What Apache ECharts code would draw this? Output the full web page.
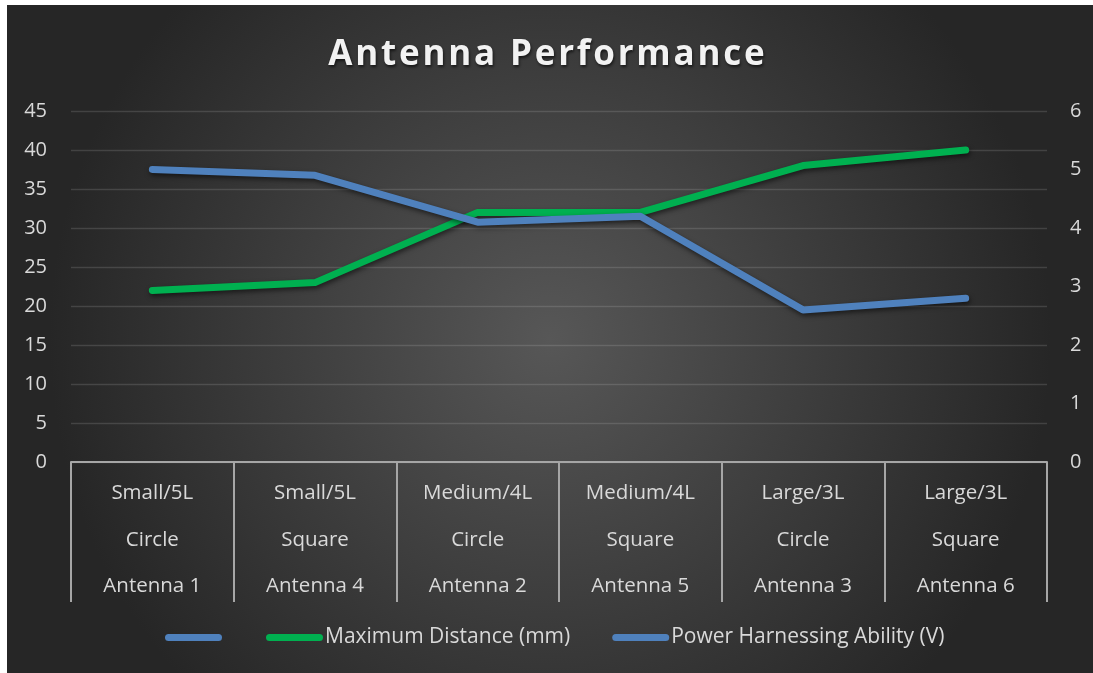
<!DOCTYPE html>
<html>
<head>
<meta charset="utf-8">
<style>
  html, body { margin: 0; padding: 0; background: #ffffff; }
  #chart { width: 1093px; height: 673px; }
</style>
<script src="https://cdn.jsdelivr.net/npm/echarts@6/dist/echarts.min.js"></script>
</head>
<body>
<div id="chart"></div>
<script>
// Category rows (three-level axis: size / shape / antenna)
const sizes = ['Small/5L', 'Small/5L', 'Medium/4L', 'Medium/4L', 'Large/3L', 'Large/3L'];
const shapes = ['Circle', 'Square', 'Circle', 'Square', 'Circle', 'Square'];
const antennas = ['Antenna 1', 'Antenna 4', 'Antenna 2', 'Antenna 5', 'Antenna 3', 'Antenna 6'];

// Series values
const maxDistance = [22, 23, 32, 32, 38, 40];        // mm, left axis
const powerAbility = [5.0, 4.9, 4.1, 4.2, 2.6, 2.8];  // V, right axis

// Axis ranges
const leftTicks = { min: 0, max: 45, step: 5 };
const rightTicks = { min: 0, max: 6, step: 1 };

const TITLE = 'Antenna Performance';
// the first legend entry carries no visible label
const SERIES_NAMES = ['\u200B', 'Maximum Distance (mm)', 'Power Harnessing Ability (V)'];

const BLUE = '#4f81bd';
const GREEN = '#00b050';
const TEXT = '#d9d9d9';
const FONT = '"Open Sans", "Noto Sans", sans-serif';

const categories = sizes.map((s, i) => s + '\n' + shapes[i] + '\n' + antennas[i]);

// spaced-out title: each glyph is its own rich token with side padding
const titleRich = TITLE.split('').map(c => '{s|' + c + '}').join('');

const pillIcon = 'path://M3.5,0H53.5A3.5,3.5,0,0,1,53.5,7H3.5A3.5,3.5,0,0,1,3.5,0Z';

const lineShadow = {
  shadowColor: 'rgba(0,0,0,0.55)',
  shadowBlur: 5,
  shadowOffsetX: 1,
  shadowOffsetY: 2.5
};

const chart = echarts.init(document.getElementById('chart'), null, { renderer: 'canvas' });

chart.setOption({
  animation: false,
  textStyle: { fontFamily: FONT },
  graphic: [{
    type: 'rect',
    z: -10,
    silent: true,
    shape: { x: 7, y: 5, width: 1086, height: 668 },
    style: {
      fill: {
        type: 'radial', x: 0.5, y: 0.5, r: 0.75,
        colorStops: [
          { offset: 0, color: '#575757' },
          { offset: 1, color: '#262626' }
        ]
      }
    }
  }],
  title: {
    text: titleRich,
    left: 'center',
    top: 33,
    padding: 0,
    textStyle: {
      rich: {
        s: {
          fontFamily: FONT,
          fontSize: 35,
          fontWeight: 'bold',
          color: '#f2f2f2',
          padding: [0, 1.4, 0, 1.4],
          lineHeight: 44,
          textShadowColor: 'rgba(0,0,0,0.6)',
          textShadowBlur: 3,
          textShadowOffsetX: 1,
          textShadowOffsetY: 2
        }
      }
    }
  },
  legend: {
    data: SERIES_NAMES,
    left: 165,
    top: 627,
    padding: 0,
    itemWidth: 57,
    itemHeight: 7,
    itemGap: 42,
    icon: pillIcon,
    textStyle: { color: TEXT, fontSize: 21, fontFamily: FONT, padding: [0, 0, 0, -3] }
  },
  grid: { left: 71, right: 46, top: 111, bottom: 211, containLabel: false },
  xAxis: {
    type: 'category',
    data: categories,
    boundaryGap: true,
    axisLine: { show: true, lineStyle: { color: '#a6a6a6', width: 2 } },
    axisTick: {
      show: true,
      interval: 0,
      length: 140,
      lineStyle: { color: '#a6a6a6', width: 2 }
    },
    axisLabel: {
      interval: 0,
      color: TEXT,
      fontSize: 20.5,
      lineHeight: 46.5,
      margin: 8,
      fontFamily: FONT
    },
    splitLine: { show: false }
  },
  yAxis: [{
    type: 'value',
    position: 'left',
    min: leftTicks.min,
    max: leftTicks.max,
    interval: leftTicks.step,
    axisLine: { show: false },
    axisTick: { show: false },
    axisLabel: { color: TEXT, fontSize: 20, margin: 24, fontFamily: FONT },
    splitLine: { show: true, lineStyle: { color: 'rgba(217,217,217,0.16)', width: 1.3 } }
  }, {
    type: 'value',
    position: 'right',
    min: rightTicks.min,
    max: rightTicks.max,
    interval: rightTicks.step,
    axisLine: { show: false },
    axisTick: { show: false },
    axisLabel: { color: TEXT, fontSize: 20, margin: 23, fontFamily: FONT },
    splitLine: { show: false }
  }],
  series: [{
    name: SERIES_NAMES[0],
    type: 'line',
    data: [],
    color: BLUE,
    showSymbol: false
  }, {
    name: SERIES_NAMES[1],
    type: 'line',
    yAxisIndex: 0,
    data: maxDistance,
    color: GREEN,
    symbol: 'none',
    lineStyle: Object.assign({ color: GREEN, width: 7, cap: 'round', join: 'round' }, lineShadow)
  }, {
    name: SERIES_NAMES[2],
    type: 'line',
    yAxisIndex: 1,
    data: powerAbility,
    color: BLUE,
    symbol: 'none',
    z: 3,
    lineStyle: Object.assign({ color: BLUE, width: 7, cap: 'round', join: 'round' }, lineShadow)
  }]
});
</script>
</body>
</html>
